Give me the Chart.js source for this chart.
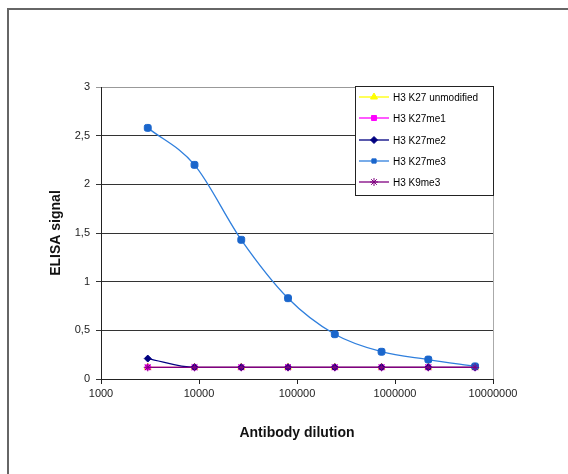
<!DOCTYPE html>
<html>
<head>
<meta charset="utf-8">
<script src="https://cdn.jsdelivr.net/npm/chart.js@4/dist/chart.umd.min.js"></script>
<style>
  html, body { margin: 0; padding: 0; background: #fff; }
  #wrap { width: 568px; height: 474px; position: relative; }
</style>
</head>
<body>
<div id="wrap"><canvas id="chart"></canvas></div>
<script>
const dilutions = [3000, 9000, 27000, 81000, 243000, 729000, 2187000, 6561000];
const xTicks = [1000, 10000, 100000, 1000000, 10000000];

const k27Unmod = [0.12, 0.12, 0.12, 0.12, 0.12, 0.12, 0.12, 0.12];
const k27me1   = [0.12, 0.12, 0.12, 0.12, 0.12, 0.12, 0.12, 0.12];
const k27me2   = [0.21, 0.12, 0.12, 0.12, 0.12, 0.12, 0.12, 0.12];
const k27me3   = [2.58, 2.2, 1.43, 0.83, 0.46, 0.28, 0.2, 0.13];
const k9me3    = [0.12, 0.12, 0.12, 0.12, 0.12, 0.12, 0.12, 0.12];

const font = "'Liberation Sans', Arial, sans-serif";

function pts(vals) {
  return vals.map((v, i) => ({ x: dilutions[i], y: v }));
}

function series(label, vals, color, style, radius, order) {
  return {
    label: label,
    data: pts(vals),
    borderColor: color,
    backgroundColor: color,
    pointStyle: style,
    pointRadius: radius,
    pointBorderWidth: 1,
    borderWidth: 1.3,
    tension: 0.4,
    cubicInterpolationMode: 'monotone',
    order: order
  };
}

const datasets = [
  series('H3 K27 unmodified', k27Unmod, '#ffff00', 'triangle', 4, 5),
  series('H3 K27me1', k27me1, '#ff00ff', 'rect', 3.5, 4),
  series('H3 K27me2', k27me2, '#000080', 'rectRot', 3.5, 3),
  series('H3 K27me3', k27me3, '#2f7fdd', 'rectRounded', 4, 2),
  series('H3 K9me3', k9me3, '#800080', 'star', 4, 1)
];
datasets[3].pointBackgroundColor = '#1a66cc';
datasets[3].pointBorderColor = '#1a66cc';
const legendMarks = ['triangle', 'rect', 'rectRot', 'rect', 'star'];
const legendSizes = [4, 3.5, 3.5, 3, 4];

const decor = {
  id: 'decor',
  beforeDraw(chart) {
    const c = chart.ctx;
    c.save();
    c.strokeStyle = '#666';
    c.lineWidth = 2;
    c.beginPath();
    c.moveTo(8, 474);
    c.lineTo(8, 9);
    c.lineTo(568, 9);
    c.stroke();
    c.restore();
  },
  afterDraw(chart) {
    const c = chart.ctx;
    const a = chart.chartArea;
    c.save();
    // right edge of plot area
    c.strokeStyle = '#aaa';
    c.lineWidth = 1;
    c.beginPath();
    c.moveTo(a.right + 0.5, a.top);
    c.lineTo(a.right + 0.5, a.bottom);
    c.stroke();

    // legend box
    const bx = 355.5, by = 86.5, bw = a.right - 355, bh = 109;
    c.fillStyle = '#fff';
    c.fillRect(bx, by, bw, bh);
    c.strokeStyle = '#222';
    c.strokeRect(bx, by, bw, bh);
    c.font = '10px ' + font;
    c.textBaseline = 'middle';
    c.textAlign = 'left';
    const rows = [97, 118, 140, 161, 182];
    chart.data.datasets.forEach((ds, i) => {
      const y = rows[i];
      c.strokeStyle = ds.borderColor;
      c.lineWidth = 1.3;
      c.beginPath();
      c.moveTo(359, y);
      c.lineTo(389, y);
      c.stroke();
      c.fillStyle = ds.pointBackgroundColor || ds.backgroundColor;
      c.strokeStyle = ds.pointBorderColor || ds.borderColor;
      c.lineWidth = 1;
      Chart.helpers.drawPoint(c, { pointStyle: legendMarks[i], radius: legendSizes[i], rotation: 0, borderWidth: 1 }, 374, y);
      c.fillStyle = '#000';
      c.fillText(ds.label, 393, y + 1);
    });
    c.restore();
  }
};

new Chart(document.getElementById('chart'), {
  type: 'line',
  data: { datasets: datasets },
  plugins: [decor],
  options: {
    responsive: true,
    maintainAspectRatio: false,
    animation: false,
    layout: { padding: { left: 0, right: 75, top: 87, bottom: 0 } },
    plugins: {
      legend: { display: false },
      tooltip: { enabled: false }
    },
    scales: {
      x: {
        type: 'logarithmic',
        min: 1000,
        max: 10000000,
        afterBuildTicks(scale) {
          scale.ticks = xTicks.map(v => ({ value: v }));
        },
        afterFit(scale) { scale.height = 95; },
        ticks: {
          autoSkip: false,
          maxRotation: 0,
          padding: 3,
          color: '#222',
          font: { family: font, size: 11 },
          callback: v => String(v)
        },
        grid: { drawOnChartArea: false, drawTicks: true, tickLength: 5, color: '#222' },
        border: { color: '#222', width: 1 },
        title: {
          display: true,
          text: 'Antibody dilution',
          color: '#111',
          font: { family: font, size: 14, weight: 'bold' },
          padding: { top: 0, bottom: 32 }
        }
      },
      y: {
        min: 0,
        max: 3,
        afterFit(scale) { scale.width = 101; },
        ticks: {
          stepSize: 0.5,
          padding: 6,
          color: '#222',
          font: { family: font, size: 11 },
          callback: v => String(v).replace('.', ',')
        },
        grid: {
          tickLength: 5,
          color: ctx => (ctx.tick && ctx.tick.value === 3) ? '#999' : '#333',
          lineWidth: 1
        },
        border: { color: '#222', width: 1 },
        title: {
          display: true,
          text: 'ELISA signal',
          color: '#111',
          font: { family: font, size: 14, weight: 'bold' },
          padding: { top: 48, bottom: 0 }
        }
      }
    }
  }
});
</script>
</body>
</html>
